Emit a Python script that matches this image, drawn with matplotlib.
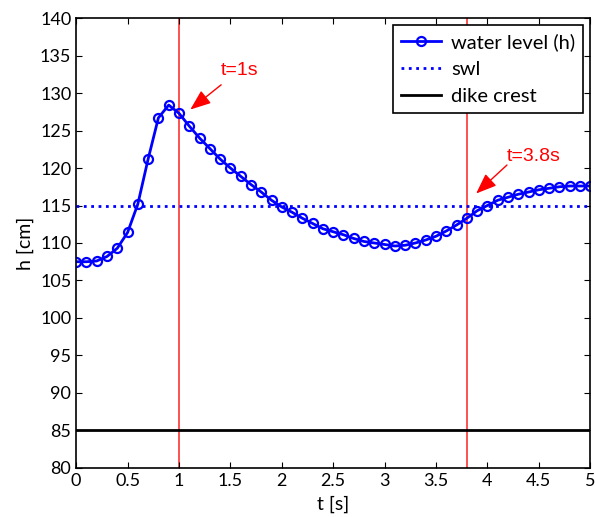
import numpy as np
import matplotlib
matplotlib.use("Agg")
import matplotlib.pyplot as plt

plt.rcParams['font.family'] = ['Lato', 'DejaVu Sans']

# time steps (s) and water level (cm)
t = [i / 10 for i in range(51)]
h = [107.5, 107.5, 107.6, 108.2, 109.3, 111.4, 115.2, 121.2, 126.7, 128.4,
     127.3, 125.6, 124.0, 122.6, 121.2, 120.0, 118.9, 117.8, 116.8, 115.7,
     114.8, 114.1, 113.3, 112.6, 111.9, 111.5, 111.1, 110.6, 110.2, 110.0,
     109.8, 109.6, 109.7, 110.0, 110.4, 110.9, 111.6, 112.4, 113.3, 114.3,
     115.0, 115.7, 116.1, 116.5, 116.8, 117.1, 117.3, 117.5, 117.6, 117.6,
     117.6]
swl = 115
dike_crest = 85
marked_times = [1.0, 3.8]
marked_labels = ["t=1s", "t=3.8s"]
label_pos = [(1.59, 133.0), (4.45, 121.5)]
arrow_tails = [(1.41, 131.1), (4.19, 120.4)]
arrow_tips = [(1.11, 127.8), (3.89, 116.6)]

fig = plt.figure(figsize=(5.95, 5.17), dpi=100)
ax = fig.add_axes([0.128, 0.095, 0.864, 0.87])

ax.plot(t, h, '-o', color='#0000ff', lw=2, ms=6.5, mfc='none', mew=1.6,
        label='water level (h)')
ax.axhline(swl, color='#0000ff', ls=':', lw=2, label='swl')
ax.axhline(dike_crest, color='black', lw=2, label='dike crest')
for tm in marked_times:
    ax.axvline(tm, color='#ff2020', lw=1.1, zorder=1)

for lab, pos, tail, tip in zip(marked_labels, label_pos, arrow_tails, arrow_tips):
    ax.text(pos[0], pos[1], lab, color='#ff0000', fontsize=14,
            family=['Liberation Sans'], ha='center', va='center')
    ax.annotate('', xy=tip, xytext=tail,
                arrowprops=dict(arrowstyle='-|>,head_length=0.9,head_width=0.35',
                                color='#ff0000', lw=1, mutation_scale=14,
                                shrinkA=0, shrinkB=0))

ax.set_xlim(0, 5)
ax.set_ylim(80, 140)
ax.set_xticks(np.arange(0, 5.01, 0.5))
ax.set_xticklabels(['0', '0.5', '1', '1.5', '2', '2.5', '3', '3.5', '4', '4.5', '5'])
ax.set_yticks(np.arange(80, 141, 5))
ax.tick_params(direction='in', top=True, right=True, labelsize=13, length=4)
for s in ax.spines.values():
    s.set_linewidth(1.2)
ax.set_xlabel('t [s]', fontsize=14, labelpad=5)
ax.set_ylabel('h [cm]', fontsize=14, labelpad=4)

leg = ax.legend(loc='upper right', fontsize=14.5, fancybox=False, framealpha=1,
                edgecolor='black', borderaxespad=0.35, handlelength=2.0,
                labelspacing=0.5, borderpad=0.4, handletextpad=0.5)
leg.get_frame().set_linewidth(1.2)

fig.savefig('out.png', dpi=100)
